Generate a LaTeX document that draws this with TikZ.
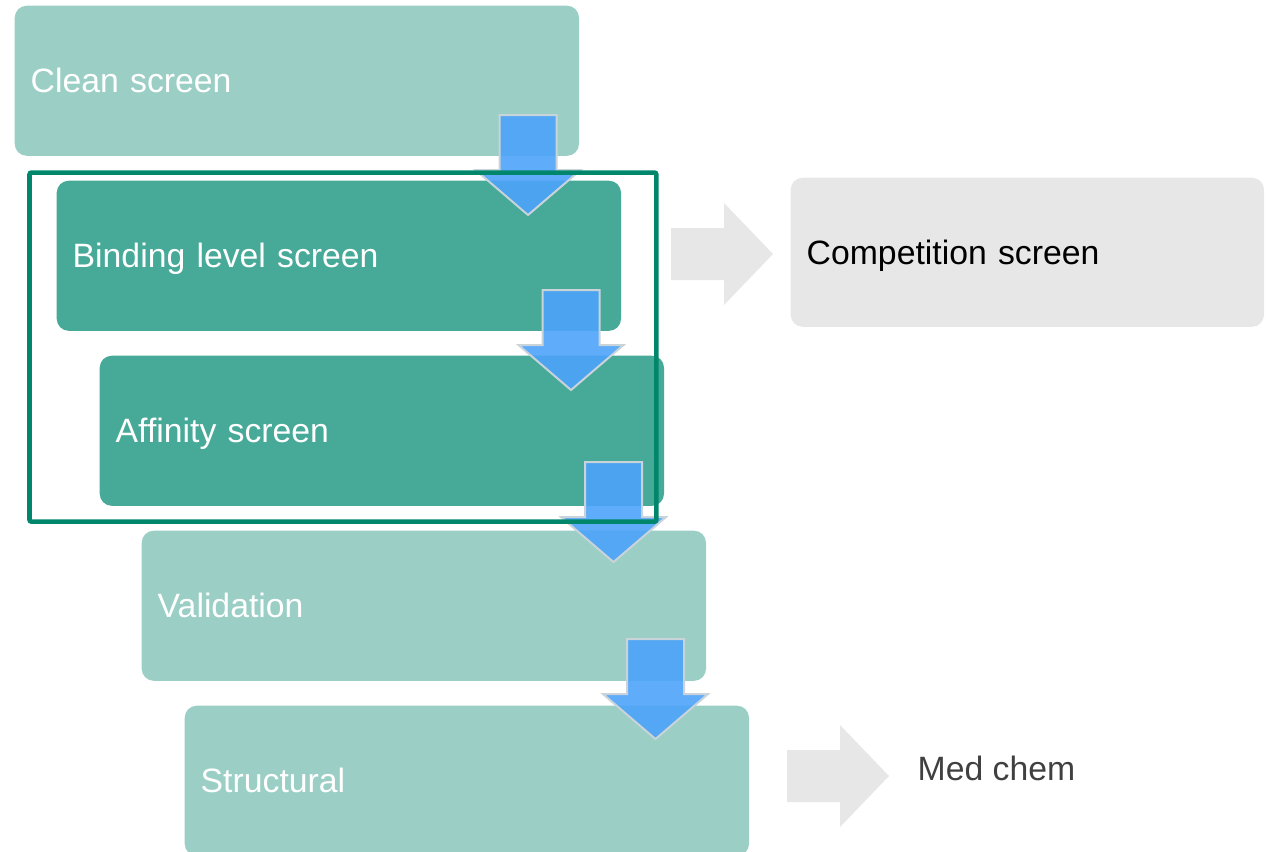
\documentclass[tikz,border=0pt]{standalone}
\usepackage{fontspec}
\setmainfont{Liberation Sans}
\usetikzlibrary{positioning}

\definecolor{palegreen}{HTML}{9BCFC6}
\definecolor{deepgreen}{HTML}{47A997}
\definecolor{framegreen}{HTML}{00876B}
\definecolor{flowblue}{HTML}{4DA3FA}
\definecolor{flowedge}{HTML}{C8D4DA}
\definecolor{softgrey}{HTML}{E7E7E7}
\definecolor{inkgrey}{HTML}{404040}

\tikzset{
  stage/.style={rounded corners=0.12cm, anchor=north west,
    minimum width=5.64cm, minimum height=1.5cm,
    text width=5.32cm, inner xsep=0.16cm, align=left, text depth=0pt,
    text=white, font=\fontsize{9.6}{11}\selectfont},
  light/.style={stage, fill=palegreen},
  dark/.style={stage, fill=deepgreen},
  side/.style={stage, fill=softgrey, text=black,
    minimum width=4.73cm, minimum height=1.49cm, text width=4.41cm},
  group/.style={draw=framegreen, line width=0.045cm, anchor=north west,
    rounded corners=0.02cm, minimum width=6.265cm, minimum height=3.49cm,
    inner sep=0pt, outer sep=0pt},
  % blue block arrow, origin at the top middle of its shaft
  pics/drop/.style={code={
    \filldraw[fill=flowblue, fill opacity=0.9, draw=flowedge, line width=0.02cm]
      (-28.5,0) -- (28.5,0) -- (28.5,55) -- (52.5,55) -- (0,100)
      -- (-52.5,55) -- (-28.5,55) -- cycle;}},
  % grey block arrow, origin at the middle of its tail
  pics/push/.style={code={
    \fill[softgrey] (0,-26) -- (53,-26) -- (53,-51) -- (102,0)
      -- (53,51) -- (53,26) -- (0,26) -- cycle;}}
}

\begin{document}
\begin{tikzpicture}[x=0.01cm, y=-0.01cm]
  \useasboundingbox (0,0) rectangle (1270,851);

  % screening cascade
  \node[light] (clean)    at (14,5)    {Clean screen};
  \node[dark]  (binding)  at (56,180)  {Binding level screen};
  \node[dark]  (affinity) at (99,355)  {Affinity screen};
  \node[light] (valid)    at (141,530) {Validation};
  \node[light] (struct)   at (184,705) {Structural};

  \pic (hop1) at (528,115)   {drop};
  \pic (hop2) at (571,290)   {drop};
  \pic (hop3) at (613.5,462) {drop};
  \pic (hop4) at (655.5,639) {drop};

  % frame sits over the arrows
  \node[group] (focus) at (29.5,172.5) {};

  % side branches
  \pic (out1) at (671,254) {push};
  \node[side] (comp) at (790,177) {Competition screen};

  \pic (out2) at (787,776) {push};
  \node[anchor=west, inner sep=0pt, text=inkgrey,
    font=\fontsize{9.6}{11}\selectfont] (medchem) at (917,768) {Med chem};
\end{tikzpicture}
\end{document}
